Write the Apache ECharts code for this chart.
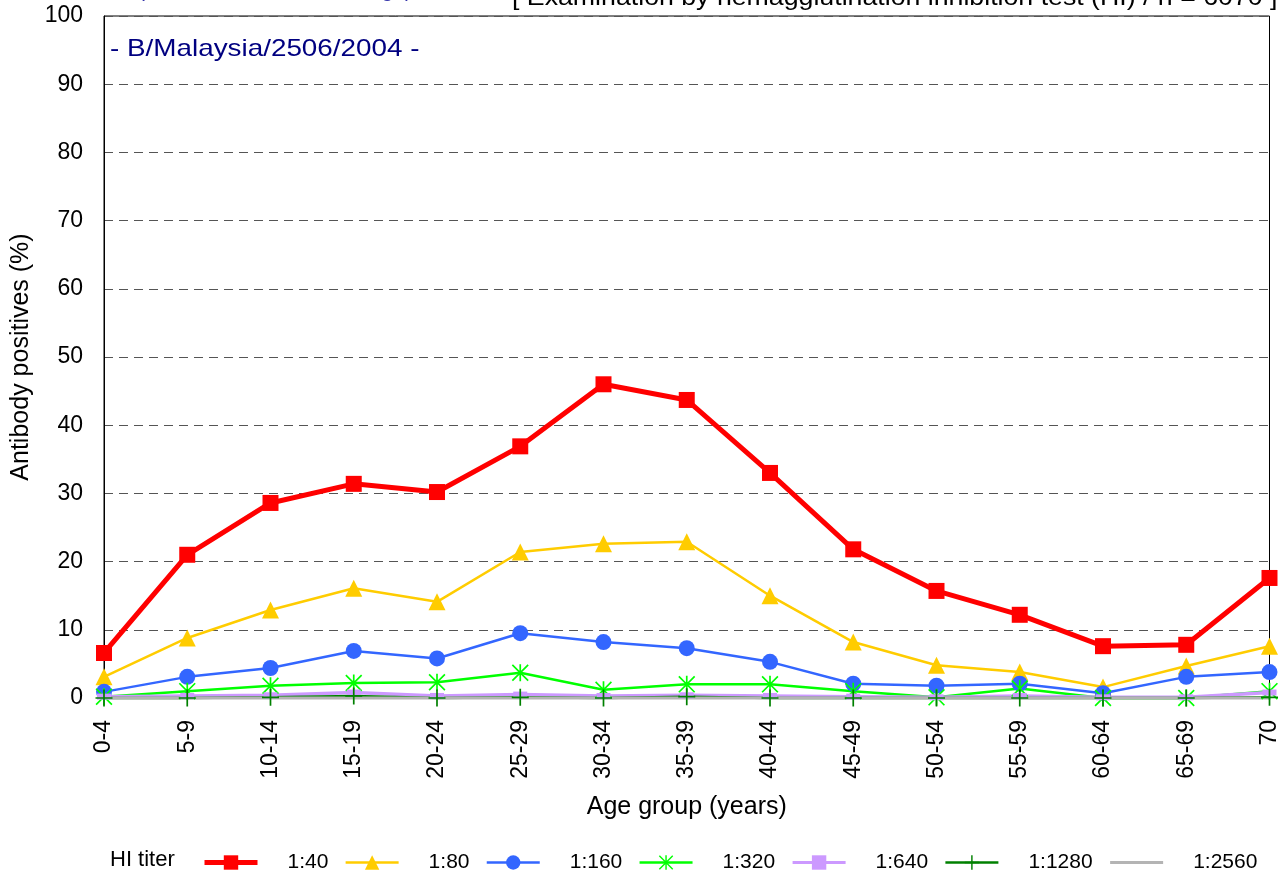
<!DOCTYPE html>
<html>
<head>
<meta charset="utf-8">
<script src="https://cdn.jsdelivr.net/npm/echarts@6/dist/echarts.min.js"></script>
<style>
html,body{margin:0;padding:0;background:#fff;}
#chart{width:1281px;height:872px;}
</style>
</head>
<body>
<div id="chart"></div>
<script>
const categories = ['0-4','5-9','10-14','15-19','20-24','25-29','30-34','35-39','40-44','45-49','50-54','55-59','60-64','65-69','70'];
const yTicks = [0,10,20,30,40,50,60,70,80,90,100];

const t40   = [6.6, 21.0, 28.6, 31.4, 30.2, 36.9, 46.0, 43.7, 33.0, 21.8, 15.7, 12.2, 7.6, 7.8, 17.6];
const t80   = [3.1, 8.8, 12.9, 16.1, 14.1, 21.4, 22.6, 22.9, 15.0, 8.2, 4.8, 3.8, 1.6, 4.7, 7.6];
const t160  = [0.9, 3.1, 4.4, 6.9, 5.8, 9.5, 8.2, 7.3, 5.3, 2.1, 1.8, 2.1, 0.7, 3.1, 3.8];
const t320  = [0.2, 1.0, 1.8, 2.2, 2.3, 3.7, 1.2, 2.0, 2.0, 1.0, 0.1, 1.4, 0.0, 0.0, 1.0];
const t640  = [0.2, 0.3, 0.4, 0.8, 0.3, 0.5, 0.3, 0.4, 0.3, 0.2, 0.1, 0.3, 0.1, 0.1, 0.8];
const t1280 = [0.0, 0.0, 0.1, 0.3, 0.0, 0.1, 0.0, 0.2, 0.0, 0.0, 0.0, 0.0, 0.0, 0.0, 0.1];
const t2560 = [0.0, 0.0, 0.0, 0.0, 0.0, 0.0, 0.0, 0.0, 0.0, 0.0, 0.0, 0.0, 0.0, 0.0, 0.0];

const seriesNames = ['1:40','1:80','1:160','1:320','1:640','1:1280','1:2560'];
const FONT = 'Liberation Sans, Arial, sans-serif';

const asterisk = 'path://M9,0L11,0L11,20L9,20Z M0,1.4L1.4,0L20,18.6L18.6,20Z M18.6,0L20,1.4L1.4,20L0,18.6Z';
const plus = 'path://M9,0L11,0L11,9L20,9L20,11L11,11L11,20L9,20L9,11L0,11L0,9L9,9Z';

const chart = echarts.init(document.getElementById('chart'), null, {renderer:'canvas'});

function mk(name, data, color, width, symbol, size) {
  return {
    name, type:'line', data,
    symbol, symbolSize: size,
    showSymbol: symbol !== 'none',
    lineStyle:{color, width},
    itemStyle:{color},
    emphasis:{disabled:true},
    animation:false,
    clip:false
  };
}

const option = {
  animation:false,
  textStyle:{fontFamily:FONT},
  grid:{left:104, right:8, top:16, bottom:174, show:true, borderColor:'#000', borderWidth:1},
  graphic:[
    {type:'text', x:138, y:2, style:{text:'(Influenza B: Victoria lineage)', font:'21px '+FONT, fill:'#3333aa', textVerticalAlign:'bottom'}},
    {type:'text', x:512, y:10, scaleX:1.113, style:{text:'[ Examination by hemagglutination inhibition test (HI) / n = 6070 ]', font:'24px '+FONT, fill:'#000', textAlign:'left', textVerticalAlign:'bottom'}},
    {type:'text', x:110, y:49, scaleX:1.16, style:{text:'- B/Malaysia/2506/2004 -', font:'24px '+FONT, fill:'#000080', textVerticalAlign:'middle'}},
    {type:'text', x:110, y:860, style:{text:'HI titer', font:'22px '+FONT, fill:'#000', textVerticalAlign:'middle'}}
  ],
  legend:{
    data: [
      {name:'1:40', lineStyle:{width:5}},
      {name:'1:80', lineStyle:{width:2.5}},
      {name:'1:160', lineStyle:{width:2.5}},
      {name:'1:320', lineStyle:{width:2.5}},
      {name:'1:640', lineStyle:{width:3}},
      {name:'1:1280', lineStyle:{width:2.5}},
      {name:'1:2560', lineStyle:{width:3}, itemStyle:{opacity:0}}
    ],
    left:197, top:847,
    itemWidth:53, itemHeight:18, itemGap:16,
    textStyle:{fontSize:21, fontFamily:FONT, color:'#000', padding:[0,0,0,25]},
    selectedMode:false
  },
  xAxis:{
    type:'category', data:categories, boundaryGap:false,
    axisLine:{lineStyle:{color:'#000', width:1}},
    axisTick:{show:false},
    axisLabel:{rotate:90, interval:0, margin:22, fontSize:23, color:'#000', fontFamily:FONT},
    name:'Age group (years)', nameLocation:'middle', nameGap:97,
    nameTextStyle:{fontSize:25, color:'#000', fontFamily:FONT},
    splitLine:{show:false}
  },
  yAxis:{
    type:'value', min:0, max:100, interval:10,
    axisLine:{show:true, lineStyle:{color:'#000', width:1}},
    axisTick:{show:false},
    axisLabel:{fontSize:23, color:'#000', margin:21, fontFamily:FONT,
      formatter:(v)=> yTicks.includes(v) ? String(v) : ''},
    splitLine:{show:true, lineStyle:{color:'#555', type:[9,6], width:1}},
    name:'Antibody positives (%)', nameLocation:'middle', nameGap:69,
    nameTextStyle:{fontSize:25, color:'#000', fontFamily:FONT}
  },
  series:[
    mk('1:40', t40, '#ff0000', 5, 'rect', 16),
    mk('1:80', t80, '#ffcc00', 2.5, 'triangle', 17),
    mk('1:160', t160, '#3366ff', 2.5, 'circle', 16),
    mk('1:320', t320, '#00ff00', 2.5, asterisk, 17),
    mk('1:640', t640, '#cc99ff', 3.5, 'rect', [14,6]),
    mk('1:1280', t1280, '#008000', 2.5, plus, 17),
    mk('1:2560', t2560, '#b4b4b4', 3, 'none', 0)
  ]
};
chart.setOption(option);
</script>
</body>
</html>
